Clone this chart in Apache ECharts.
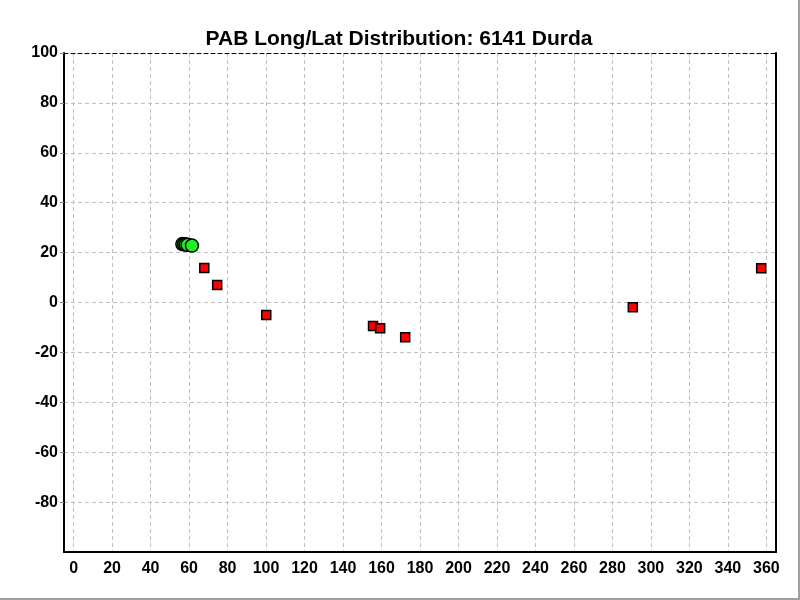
<!DOCTYPE html>
<html>
<head>
<meta charset="utf-8">
<script src="https://cdn.jsdelivr.net/npm/echarts@6/dist/echarts.min.js"></script>
<style>
  html, body { margin: 0; padding: 0; background: #fff; }
  #chart { width: 798px; height: 598px; border-right: 2px solid #a0a0a0; border-bottom: 2px solid #a0a0a0; }
</style>
</head>
<body>
<div id="chart"></div>
<script>
// PAB long/lat scatter
var titleText = 'PAB Long/Lat Distribution: 6141 Durda';

// red squares (longitude, latitude)
var squareLong = [67.9, 74.6, 100.1, 155.6, 159.3, 172.3, 290.6, 357.3];
var squareLat = [13.8, 7.0, -5.0, -9.4, -10.3, -13.9, -1.9, 13.7];

// green circles (longitude, latitude)
var circleLong = [56.5, 57.4, 58.2, 59.2, 61.5];
var circleLat = [23.4, 23.3, 23.2, 23.1, 22.8];

var xMin = -5, xMax = 365;
var yMin = -100, yMax = 100, yStep = 20;

function pairs(xs, ys) {
  var out = [];
  for (var i = 0; i < xs.length; i++) out.push([xs[i], ys[i]]);
  return out;
}

var chart = echarts.init(document.getElementById('chart'), null, { renderer: 'canvas' });
var labelFont = { color: '#000', fontSize: 16, fontWeight: 'bold', fontFamily: 'Liberation Sans, Arial, sans-serif' };
var gridLine = { show: true, lineStyle: { color: '#c0c0c0', type: [4, 3], width: 1 } };

chart.setOption({
  animation: false,
  backgroundColor: '#fff',
  title: {
    text: titleText,
    left: 'center',
    top: 24,
    textStyle: { color: '#000', fontSize: 21, fontWeight: 'bold', fontFamily: 'Liberation Sans, Arial, sans-serif' }
  },
  grid: { left: 64, right: 22, top: 53, bottom: 46 },
  xAxis: [{
    type: 'value',
    min: xMin, max: xMax,
    splitNumber: 18,
    axisLine: { onZero: false, lineStyle: { color: '#000', width: 2 } },
    axisTick: { show: false },
    axisLabel: Object.assign({ margin: 9, showMinLabel: false, showMaxLabel: false,
      formatter: function (v) { return v % 20 === 0 ? String(v) : ''; } }, labelFont),
    splitLine: gridLine
  }, {
    type: 'value',
    position: 'top',
    min: xMin, max: xMax,
    axisLine: { show: true, onZero: false, lineStyle: { color: '#000', type: [4, 3], width: 1 } },
    axisTick: { show: false },
    axisLabel: { show: false },
    splitLine: { show: false }
  }],
  yAxis: [{
    type: 'value',
    min: yMin, max: yMax, interval: yStep,
    axisLine: { show: true, onZero: false, lineStyle: { color: '#000', width: 2 } },
    axisTick: { show: true, length: 4, lineStyle: { color: '#808080' } },
    axisLabel: Object.assign({ margin: 6, showMinLabel: false }, labelFont),
    splitLine: gridLine
  }, {
    type: 'value',
    position: 'right',
    min: yMin, max: yMax, interval: yStep,
    axisLine: { show: true, onZero: false, lineStyle: { color: '#000', width: 2 } },
    axisTick: { show: false },
    axisLabel: { show: false },
    splitLine: { show: false }
  }],
  series: [{
    name: 'squares',
    type: 'scatter',
    symbol: 'rect',
    symbolSize: 9,
    itemStyle: { color: '#ff0000', borderColor: '#000', borderWidth: 1.5, opacity: 1 },
    data: pairs(squareLong, squareLat)
  }, {
    name: 'circles',
    type: 'scatter',
    symbol: 'circle',
    symbolSize: 13,
    itemStyle: { color: '#22ee22', borderColor: '#000', borderWidth: 1.5, opacity: 1 },
    data: pairs(circleLong, circleLat)
  }]
});
window.addEventListener('resize', function () { chart.resize(); });
</script>
</body>
</html>
